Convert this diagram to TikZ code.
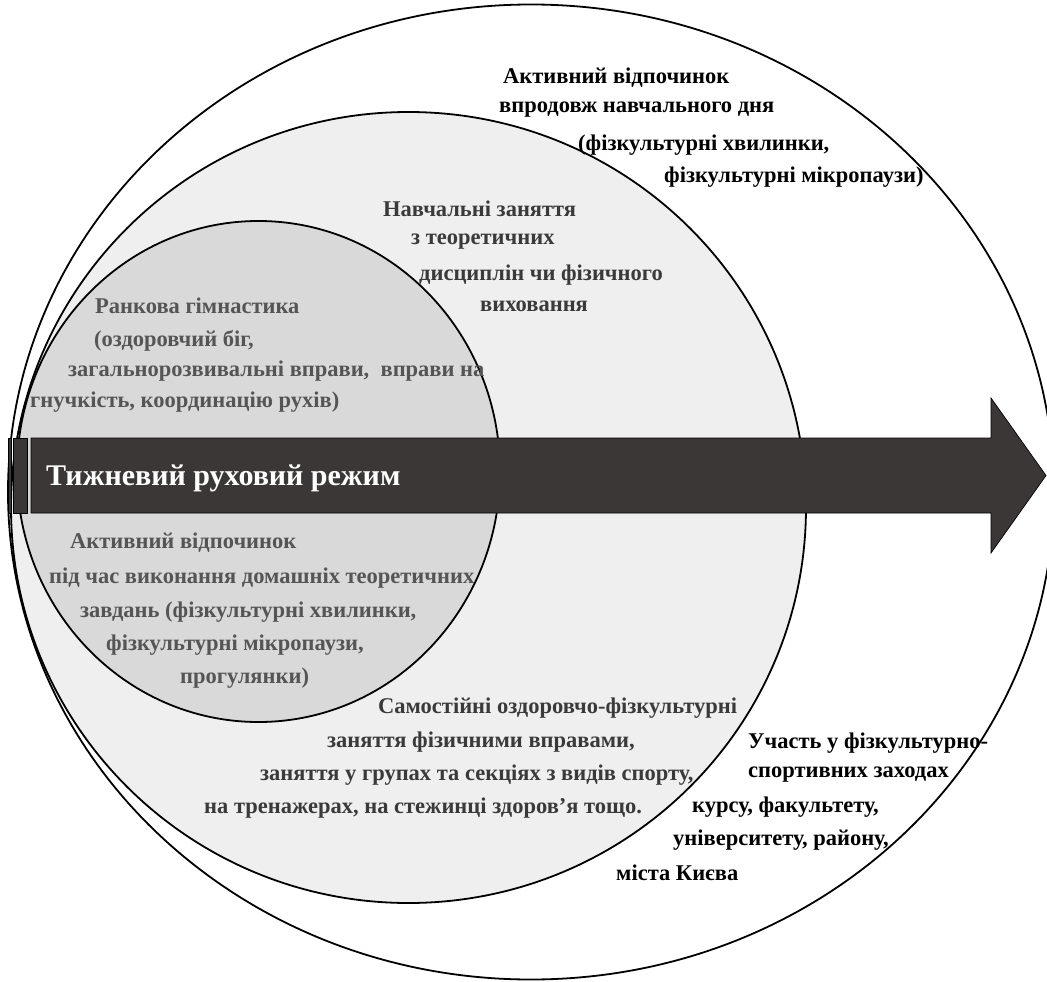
\documentclass[tikz,border=0pt]{standalone}
\usepackage{fontspec}
\setmainfont{Liberation Serif}
\usetikzlibrary{shapes.geometric}

\definecolor{innergray}{HTML}{D9D9D9}
\definecolor{middlegray}{HTML}{EFEFEF}
\definecolor{arrowgray}{HTML}{3B3737}
\definecolor{intext}{HTML}{555555}
\definecolor{midtext}{HTML}{3A3A3A}

\tikzset{
  zone/.style={ellipse, draw, line width=1.8pt, inner sep=0pt},
  band/.style={draw, line width=0.7pt, fill=arrowgray},
  txt/.style={anchor=west, inner sep=0pt, font=\fontsize{22.5}{22.5}\selectfont\bfseries},
}

\begin{document}
\begin{tikzpicture}[x=1pt,y=-1pt]
  \useasboundingbox (0,0) rectangle (1047,982);
  % nested zones
  \node[zone, fill=white, minimum width=1046pt, minimum height=975pt] (outer) at (531,492) {};
  \node[zone, fill=middlegray, minimum width=795pt, minimum height=791pt] (middle) at (408.5,507.5) {};
  \node[zone, fill=innergray, minimum width=483pt, minimum height=501pt] (inner) at (258.5,471.5) {};

  % striped arrow
  \draw[band] (31,438) -- (991,438) -- (991,398) -- (1046,475.5) -- (991,553) -- (991,513) -- (31,513) -- cycle;
  \draw[band] (8,438) rectangle (11,513);
  \draw[band] (13,438) rectangle (27,513);
  \node[txt, text=white, font=\fontsize{30}{30}\selectfont\bfseries] (week) at (46,478) {Тижневий руховий режим};

  % outer zone, top
  \node[txt] (o1) at (503,78) {Активний відпочинок};
  \node[txt] (o2) at (499,110) {впродовж навчального дня};
  \node[txt] (o3) at (578,145) {(фізкультурні хвилинки,};
  \node[txt] (o4) at (664,177) {фізкультурні мікропаузи)};

  % middle zone, top
  \node[txt, text=midtext] (m1) at (383,209) {Навчальні заняття};
  \node[txt, text=midtext] (m2) at (411,242) {з теоретичних};
  \node[txt, text=midtext] (m3) at (419,275) {дисциплін чи фізичного};
  \node[txt, text=midtext] (m4) at (480,306) {виховання};

  % inner zone, top
  \node[txt, text=intext] (i1) at (95,306) {Ранкова гімнастика};
  \node[txt, text=intext] (i2) at (94,341) {(оздоровчий біг,};
  \node[txt, text=intext] (i3) at (68,371) {загальнорозвивальні вправи,\ \ вправи на};
  \node[txt, text=intext] (i4) at (30,402) {гнучкість, координацію рухів)};

  % inner zone, bottom
  \node[txt, text=intext] (i5) at (70,543) {Активний відпочинок};
  \node[txt, text=intext] (i6) at (49,578) {під час виконання домашніх теоретичних};
  \node[txt, text=intext] (i7) at (80,612) {завдань (фізкультурні хвилинки,};
  \node[txt, text=intext] (i8) at (106,645) {фізкультурні мікропаузи,};
  \node[txt, text=intext] (i9) at (180,678) {прогулянки)};

  % middle zone, bottom
  \node[txt, text=midtext] (m5) at (378,708) {Самостійні оздоровчо-фізкультурні};
  \node[txt, text=midtext] (m6) at (327,742) {заняття фізичними вправами,};
  \node[txt, text=midtext] (m7) at (260,775) {заняття у групах та секціях з видів спорту,};
  \node[txt, text=midtext] (m8) at (204,808) {на тренажерах, на стежинці здоров'я тощо.};

  % outer zone, bottom
  \node[txt] (o5) at (748,743) {Участь у фізкультурно-};
  \node[txt] (o6) at (748,775) {спортивних заходах};
  \node[txt] (o7) at (692,807) {курсу, факультету,};
  \node[txt] (o8) at (673,840) {університету, району,};
  \node[txt] (o9) at (616,873) {міста Києва};
\end{tikzpicture}
\end{document}
